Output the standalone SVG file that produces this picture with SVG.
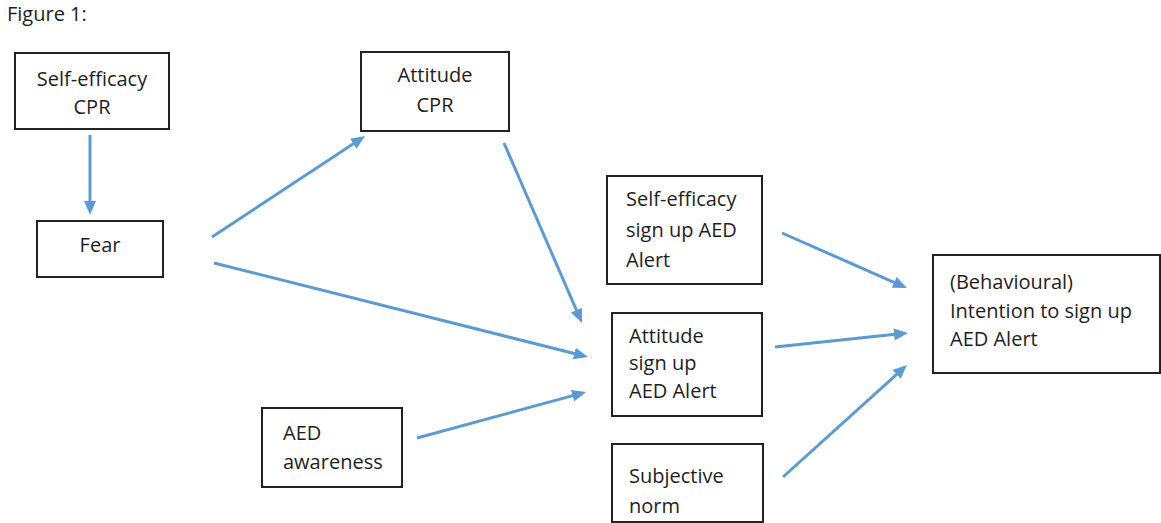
<svg xmlns="http://www.w3.org/2000/svg" width="1161" height="523" viewBox="0 0 1161 523">
<style>
  .box { fill: #ffffff; stroke: #222222; stroke-width: 2; }
  .lbl { font-family: "Open Sans", "Liberation Sans", sans-serif; font-size: 20px; fill: #1e1e1e; }
  .c { text-anchor: middle; }
  .edge { stroke: #5B9BD5; stroke-width: 3; fill: none; marker-end: url(#ah); }
</style>
<defs>
  <marker id="ah" markerUnits="userSpaceOnUse" markerWidth="16" markerHeight="14" refX="6" refY="6" orient="auto">
    <path d="M0,0 L14,6 L0,12 z" fill="#5B9BD5"/>
  </marker>
</defs>
<rect width="1161" height="523" fill="#ffffff"/>
<text class="lbl" x="7" y="21">Figure 1:</text>

<g id="connectors">
  <line class="edge" x1="90" y1="135" x2="90" y2="207"/>
  <line class="edge" x1="212" y1="237" x2="358.3" y2="140.4"/>
  <line class="edge" x1="214" y1="263" x2="580.2" y2="355"/>
  <line class="edge" x1="504" y1="143" x2="578.8" y2="315.7"/>
  <line class="edge" x1="417" y1="438" x2="578.3" y2="394.1"/>
  <line class="edge" x1="782" y1="233" x2="899.7" y2="284.8"/>
  <line class="edge" x1="775" y1="347" x2="900" y2="333.8"/>
  <line class="edge" x1="783" y1="477" x2="901.1" y2="370.4"/>
</g>

<g id="se-cpr">
  <rect class="box" x="15" y="53" width="154" height="76"/>
  <text class="lbl c" x="92" y="86">Self-efficacy</text>
  <text class="lbl c" x="92" y="114">CPR</text>
</g>
<g id="fear">
  <rect class="box" x="37" y="221" width="126" height="56"/>
  <text class="lbl c" x="100" y="252">Fear</text>
</g>
<g id="att-cpr">
  <rect class="box" x="361" y="52" width="148" height="79"/>
  <text class="lbl c" x="435" y="82">Attitude</text>
  <text class="lbl c" x="435" y="112">CPR</text>
</g>
<g id="se-signup">
  <rect class="box" x="607" y="176" width="155" height="108"/>
  <text class="lbl" x="626" y="206">Self-efficacy</text>
  <text class="lbl" x="626" y="237">sign up AED</text>
  <text class="lbl" x="626" y="267">Alert</text>
</g>
<g id="att-signup">
  <rect class="box" x="612" y="313" width="150" height="103"/>
  <text class="lbl" x="629" y="343">Attitude</text>
  <text class="lbl" x="629" y="370">sign up</text>
  <text class="lbl" x="629" y="398">AED Alert</text>
</g>
<g id="subj-norm">
  <rect class="box" x="612" y="444" width="151" height="78"/>
  <text class="lbl" x="629" y="483">Subjective</text>
  <text class="lbl" x="629" y="513">norm</text>
</g>
<g id="aed-awareness">
  <rect class="box" x="262" y="408" width="140" height="79"/>
  <text class="lbl" x="283" y="440">AED</text>
  <text class="lbl" x="283" y="469">awareness</text>
</g>
<g id="intention">
  <rect class="box" x="933" y="255" width="227" height="118"/>
  <text class="lbl" x="950" y="289">(Behavioural)</text>
  <text class="lbl" x="950" y="318">Intention to sign up</text>
  <text class="lbl" x="950" y="346">AED Alert</text>
</g>
</svg>
